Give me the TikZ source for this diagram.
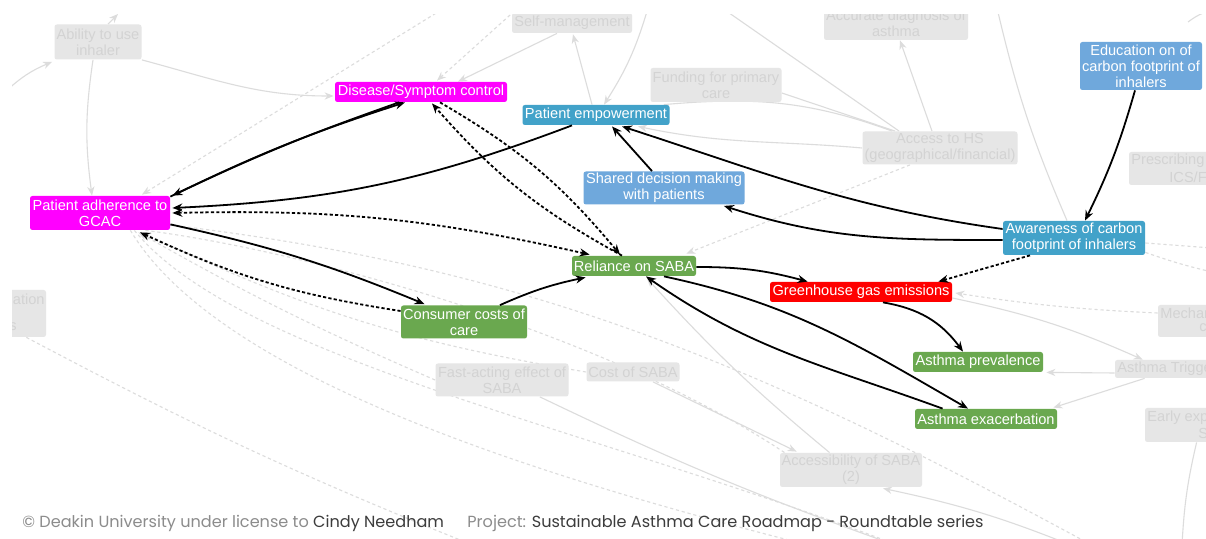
\documentclass[tikz,border=0pt]{standalone}
\usepackage{fontspec}
\setmainfont{Liberation Sans}
\newfontfamily\footfont{Poppins}
\usetikzlibrary{arrows.meta,calc}
\pgfdeclarelayer{gedge}
\pgfdeclarelayer{gnod}
\pgfsetlayers{gedge,gnod,main}
\definecolor{cmag}{HTML}{FF00FF}
\definecolor{cteal}{HTML}{42A2C9}
\definecolor{clblue}{HTML}{6FA8DC}
\definecolor{cgreen}{HTML}{6AA84F}
\definecolor{cred}{HTML}{FF0000}
\definecolor{gfill}{HTML}{E6E6E6}
\definecolor{gtext}{HTML}{D3D3D3}
\definecolor{gline}{HTML}{DCDCDC}
\definecolor{fgrey}{HTML}{8C8C8C}
\definecolor{fdark}{HTML}{3C3C3C}
\tikzset{
  >={Stealth[length=5pt,width=4pt]},
  nfont/.style={font=\fontsize{7.3}{8}\selectfont},
  cnode/.style={rectangle, rounded corners=1.2pt, inner sep=0pt, align=center, text=white, nfont},
  gnode/.style={rectangle, rounded corners=1.2pt, inner sep=0pt, align=center, fill=gfill, text=gtext, nfont},
  gfrag/.style={inner sep=0pt, text=gtext, nfont},
  blk/.style={draw=black, line width=0.9pt},
  bdash/.style={blk, dash pattern=on 1.6pt off 1.1pt},
  gry/.style={draw=gline, line width=0.55pt, >={Stealth[length=4.5pt,width=3.6pt]}},
  gdash/.style={gry, dash pattern=on 1.6pt off 1.4pt},
  foot/.style={inner sep=0pt, font=\footfont\fontsize{8.05}{9}\selectfont},
}
\newcommand\cliparea{\clip (12,15) rectangle (1206,539);}
\begin{document}
\begin{tikzpicture}[x=0.5pt,y=-0.5pt]
\useasboundingbox (0,0) rectangle (1206,539);
\begin{pgfonlayer}{gedge}
\fill[white] (0,0) rectangle (1206,539);
\end{pgfonlayer}
% ---------- grey background nodes
\begin{pgfonlayer}{gnod}
\begin{scope}
\cliparea
\node[gnode, minimum width=43.5pt, minimum height=17.5pt] (gabl) at (98,42) {Ability to use\\inhaler};
\node[gnode, minimum width=60pt, minimum height=10pt] (gself) at (572,23) {Self-management};
\node[gnode, minimum width=72pt, minimum height=17pt] (gacc) at (896,23) {Accurate diagnosis of\\asthma};
\node[gnode, minimum width=65.5pt, minimum height=17pt] (gfund) at (716,85) {Funding for primary\\care};
\node[gnode, minimum width=77.5pt, minimum height=16.5pt] (gahs) at (940,148) {Access to HS\\(geographical/financial)};
\node[gnode, minimum width=66.5pt, minimum height=16.5pt] (gfast) at (502,380) {Fast-acting effect of\\SABA};
\node[gnode, minimum width=46.5pt, minimum height=9.5pt] (gcost) at (633,372) {Cost of SABA};
\node[gnode, minimum width=71pt, minimum height=17pt] (gaccs) at (851,470) {Accessibility of SABA\\(2)};
\node[gnode, minimum width=55.5pt, minimum height=16.5pt] (gpres) at (1184.5,168.5) {};
\node[gfrag, anchor=west] (tpres1) at (1131,161) {Prescribing};
\node[gfrag, anchor=west] (tpres2) at (1169,177) {ICS/F};
\node[gnode, minimum width=41pt, minimum height=16pt] (gmech) at (1199,321) {};
\node[gfrag, anchor=west] (tmech1) at (1160,313) {Mechan};
\node[gfrag, anchor=west] (tmech2) at (1199,328) {c};
\node[gnode, minimum width=62.5pt, minimum height=9pt] (gtrig) at (1177.5,369) {};
\node[gfrag, anchor=west] (ttrig) at (1117,369) {Asthma Trigge};
\node[gnode, minimum width=47.5pt, minimum height=17pt] (gearly) at (1192.5,425) {};
\node[gfrag, anchor=west] (tearly1) at (1147,418) {Early exp};
\node[gfrag, anchor=west] (tearly2) at (1198,433) {S};
\node[gnode, minimum width=43pt, minimum height=23.5pt] (gation) at (3,313.5) {};
\node[gfrag, anchor=east] (tation1) at (45,299) {ation};
\node[gfrag, anchor=east] (tation2) at (17,327) {s};
\end{scope}
\end{pgfonlayer}
% ---------- coloured nodes
\node[cnode, fill=cmag, minimum width=86pt, minimum height=10pt] (dis) at (421,92) {Disease/Symptom control};
\node[cnode, fill=cteal, minimum width=73.5pt, minimum height=10pt] (emp) at (596,115) {Patient empowerment};
\node[cnode, fill=clblue, minimum width=61pt, minimum height=24pt] (edu) at (1141,66) {Education on of\\carbon footprint of\\inhalers};
\node[cnode, fill=clblue, minimum width=80.5pt, minimum height=16.5pt] (sdm) at (664,188) {Shared decision making\\with patients};
\node[cnode, fill=cmag, minimum width=70pt, minimum height=17pt] (adh) at (100,213) {Patient adherence to\\GCAC};
\node[cnode, fill=cteal, minimum width=71pt, minimum height=17pt] (awa) at (1074,238) {Awareness of carbon\\footprint of inhalers};
\node[cnode, fill=cgreen, minimum width=62pt, minimum height=10pt] (rel) at (634,266) {Reliance on SABA};
\node[cnode, fill=cred, minimum width=91pt, minimum height=10pt] (ghg) at (861,292) {Greenhouse gas emissions};
\node[cnode, fill=cgreen, minimum width=63pt, minimum height=16.5pt] (ccc) at (464,322) {Consumer costs of\\care};
\node[cnode, fill=cgreen, minimum width=65pt, minimum height=10pt] (pre) at (978,362) {Asthma prevalence};
\node[cnode, fill=cgreen, minimum width=71pt, minimum height=10pt] (exa) at (986,419) {Asthma exacerbation};
% ---------- free ends of grey connectors
\coordinate (gL) at (5,92);
\coordinate (gT1) at (118,14);
\coordinate (gT2) at (648,8);
\coordinate (gT3) at (722,8);
\coordinate (gT4) at (997,8);
\coordinate (gT5) at (1212,10);
\coordinate (gT5b) at (1188,22);
\coordinate (gT6) at (446,7);
\coordinate (gT7) at (519,7);
\coordinate (gR1) at (1212,248);
\coordinate (gR2) at (1212,272);
\coordinate (gB1) at (1182,545);
\coordinate (gB2) at (895,545);
\coordinate (gB3) at (1078,548);
\coordinate (gB4) at (1097,548);
\coordinate (gB5) at (905,548);
\coordinate (gB6) at (820,548);
\coordinate (gB7) at (480,548);
\begin{pgfonlayer}{gedge}
\begin{scope}
\cliparea
% ---------- grey solid connectors
\draw[gry,->] (gL) to[bend left=10] ($(gabl.south west)+(-2,2)$);
\draw[gry,->] ($(gabl.north)+(10,0)$) -- (gT1);
\draw[gry,->] ($(gabl.south)+(-5,0)$) to[bend right=8] ($(adh.north)+(-8,0)$);
\draw[gry,->] (gabl.south east) to[out=-15,in=180] ($(dis.west)+(-1,4)$);
\draw[gry,->] ($(gself.south)+(-15,0)$) -- ($(dis.north)+(37,0)$);
\draw[gry,->] ($(emp.north)+(-4,0)$) -- ($(gself.south)+(1,1)$);
\draw[gry,->] (gT2) to[bend left=8] ($(emp.north)+(8,0)$);
\draw[gry] (gT3) -- ($(gahs.north west)+(37,0)$);
\draw[gry] ($(gfund.east)+(0,8)$) -- ($(gahs.north west)+(33,0)$);
\draw[gry] ($(emp.north east)+(-6,0)$) to[out=5,in=160] ($(gahs.north west)+(30,0)$);
\draw[gry,->] (gahs.west) to[out=175,in=-12] ($(emp.south)+(42,1)$);
\draw[gry,->] ($(gahs.north)+(-8,0)$) -- ($(gacc.south)+(4,0)$);
\draw[gry] (gT4) to[bend right=5] ($(awa.north)+(-7,0)$);
\draw[gry] (gT5b) to[bend left=10] (gT5);
\draw[gry,->] ($(ghg.east)+(0,6)$) to[bend left=6] ($(gtrig.north west)+(28,0)$);
\draw[gry,->] ($(gtrig.west)+(0,4)$) -- ($(pre.south east)+(3,0)$);
\draw[gry,->] ($(gtrig.south west)+(30,0)$) -- ($(exa.north east)+(-4,-1)$);
\draw[gry] ($(gearly.south west)+(52,0)$) to[bend right=5] (gB1);
\draw[gry] ($(gfast.south east)+(-29,0)$) to[bend right=3] (gB2);
\draw[gry,->] ($(gcost.south)+(20,0)$) -- ($(gaccs.north west)+(17,-1)$);
\draw[gry,->] ($(gaccs.north west)+(50,0)$) to[bend left=4] ($(rel.south)+(13,2)$);
\draw[gry,->] (gB3) to[bend right=5] ($(gaccs.south)+(32,1)$);
% ---------- grey dashed connectors
\draw[gdash,->] (gT6) -- ($(adh.north)+(42,-1)$);
\draw[gdash,->] (gT7) -- ($(dis.north)+(16,-1)$);
\draw[gdash,->] ($(gahs.south)+(-30,0)$) -- ($(rel.north east)+(-10,-2)$);
\draw[gdash] ($(awa.east)+(0,5)$) -- (gR1);
\draw[gdash] ($(awa.south east)+(0,-3)$) to[bend right=3] (gR2);
\draw[gdash,->] ($(gmech.west)+(0,-8)$) to[bend left=3] ($(ghg.east)+(3,1)$);
\draw[gdash] ($(adh.east)+(0,12)$) .. controls (520,267) and (745,356) .. (gB4);
\draw[gdash] ($(adh.south east)+(-25,0)$) .. controls (300,250) and (600,330) .. ($(gaccs.north west)+(5,0)$);
\draw[gdash,->] (gcost.west) to[bend left=8] ($(adh.south east)+(-28,2)$);
\draw[gdash,->] (gfast.west) to[bend left=3] ($(adh.south east)+(-32,2)$);
\draw[gdash] ($(adh.south east)+(-36,0)$) .. controls (240,360) and (600,430) .. (gB5);
\draw[gdash] ($(adh.south east)+(-40,0)$) .. controls (220,380) and (550,480) .. (gB6);
\draw[gdash] ($(gation.south east)+(-20,0)$) to[bend right=3] (gB7);
\end{scope}
\end{pgfonlayer}
% ---------- black connectors
\draw[blk,->] ($(adh.north east)+(0,1)$) to[bend left=4] ($(dis.south)+(-16,0)$);
\draw[blk,->] ($(dis.south)+(-22,0)$) to[bend right=3] ($(adh.north east)+(2,0)$);
\draw[blk,->] ($(emp.south)+(-24,0)$) to[bend left=9] ($(adh.east)+(2,-5)$);
\draw[bdash,<->] ($(adh.east)+(2,0)$) to[bend left=7] ($(rel.north west)+(18,-1)$);
\draw[blk,->] ($(adh.south east)+(0,-6)$) to[bend left=5] ($(ccc.north west)+(24,-1)$);
\draw[bdash,->] ($(ccc.west)+(0,-11)$) to[bend left=8] ($(adh.south)+(40,2)$);
\draw[blk,->] ($(ccc.north)+(36,0)$) to[bend left=6] ($(rel.south west)+(14,1)$);
\draw[bdash,->] ($(rel.north)+(-12,0)$) to[bend left=10] ($(dis.south)+(11,1)$);
\draw[bdash,->] ($(dis.south)+(19,0)$) to[bend left=10] ($(rel.north)+(-14,-1)$);
\draw[blk,->] ($(sdm.north)+(-12,0)$) -- ($(emp.south)+(16,1)$);
\draw[blk,->] ($(awa.west)+(0,-9)$) to[out=172,in=-18] ($(emp.south)+(26,1)$);
\draw[blk,->] ($(awa.west)+(0,2)$) to[out=180,in=-18] ($(sdm.south east)+(-21,1)$);
\draw[blk,->] ($(edu.south)+(-6,0)$) to[bend left=5] ($(awa.north)+(11,0)$);
\draw[bdash,->] ($(awa.south)+(-44,0)$) -- ($(ghg.north east)+(-14,0)$);
\draw[blk,->] ($(rel.east)+(0,1)$) to[out=0,in=165] ($(ghg.north west)+(38,0)$);
\draw[blk,->] ($(ghg.south)+(22,0)$) to[bend left=22] ($(pre.north)+(-15,0)$);
\draw[blk,->] ($(rel.south)+(30,0)$) to[out=-12,in=150] ($(exa.north)+(-18,0)$);
\draw[blk,->] ($(exa.north west)+(28,0)$) to[out=160,in=-35] ($(rel.south)+(12,0)$);
% ---------- footer
\node[foot, text=fgrey, anchor=base west] (ft1) at (22,528) {© Deakin University under license to \textcolor{fdark}{Cindy Needham}};
\node[foot, text=fgrey, anchor=base west] (ft2) at (467,528) {Project: \textcolor{fdark}{Sustainable Asthma Care Roadmap - Roundtable series}};
\end{tikzpicture}
\end{document}
